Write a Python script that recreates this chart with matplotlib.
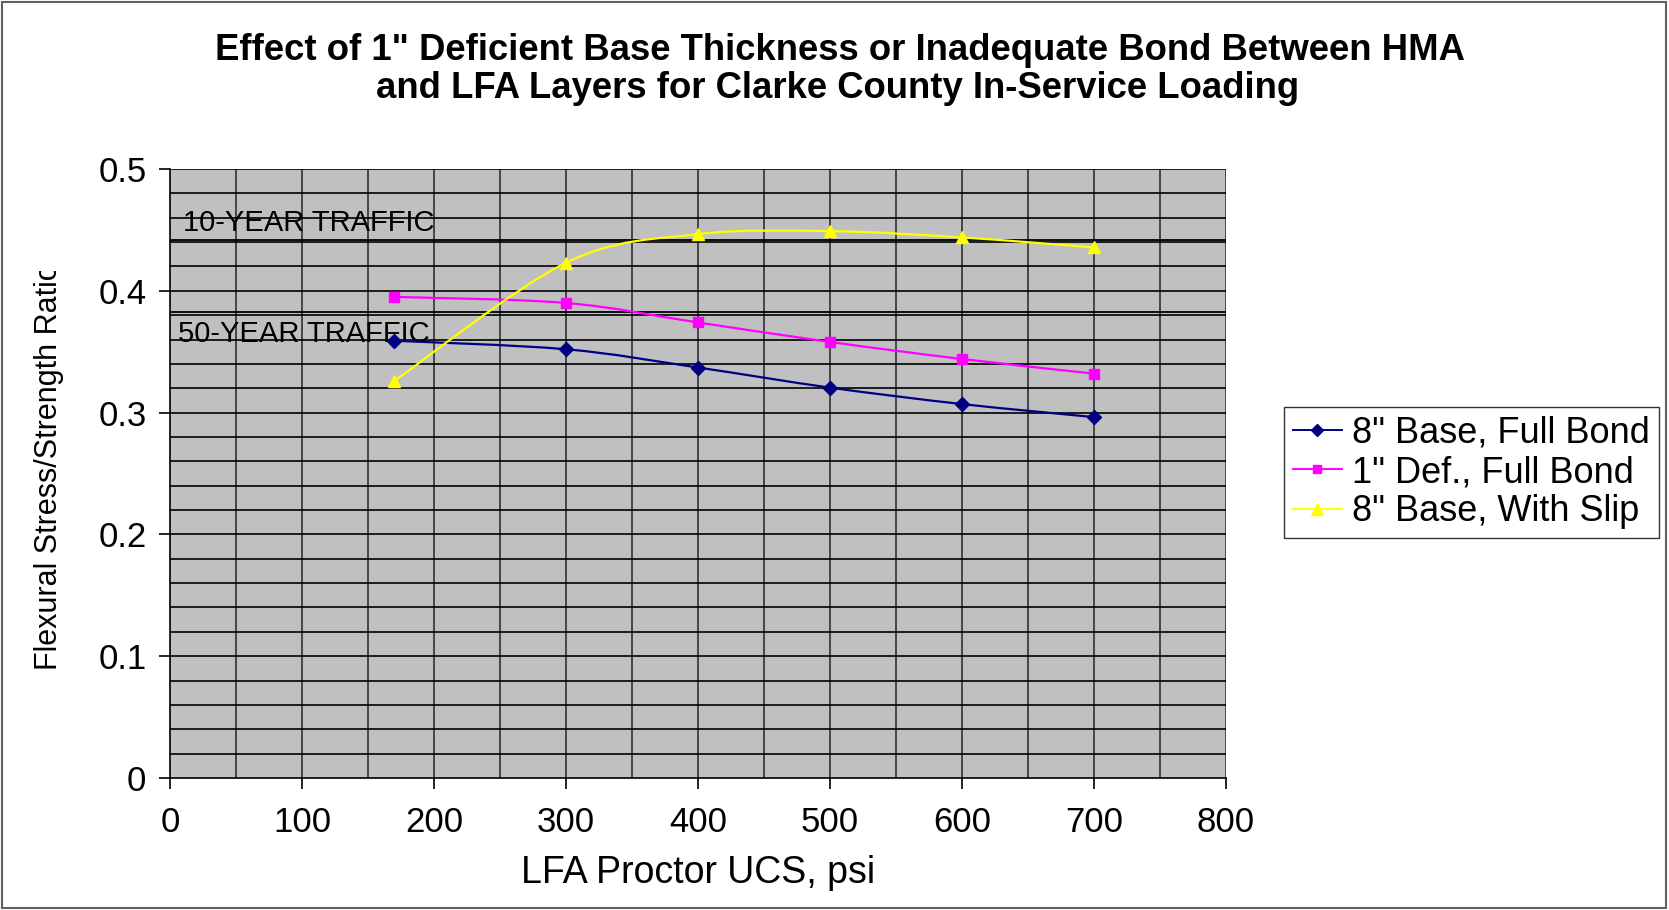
import matplotlib
matplotlib.use("Agg")
import matplotlib.pyplot as plt
from matplotlib.path import Path
from matplotlib.patches import PathPatch, Rectangle
from matplotlib.lines import Line2D
from matplotlib.transforms import Bbox, TransformedBbox
import numpy as np

plt.rcParams['font.family'] = ['Liberation Sans', 'DejaVu Sans']

ucs = [170, 300, 400, 500, 600, 700]
base_full_bond = [0.359, 0.352, 0.337, 0.3205, 0.307, 0.2963]
def_full_bond = [0.395, 0.390, 0.374, 0.358, 0.344, 0.332]
base_with_slip = [0.326, 0.423, 0.4465, 0.449, 0.4438, 0.4356]
series_labels = ['8" Base, Full Bond', '1" Def., Full Bond', '8" Base, With Slip']
traffic_10yr = 0.442
traffic_50yr = 0.3825
title_lines = ['Effect of 1" Deficient Base Thickness or Inadequate Bond Between HMA',
               'and LFA Layers for Clarke County In-Service Loading']

colors = ['#000080', '#FF00FF', '#FFFF00']
markers = ['D', 's', '^']
msizes = [7, 7, 9]

fig = plt.figure(figsize=(16.69, 9.10), dpi=100)
ax = fig.add_axes([170/1669, 1-778/910, (1226-170)/1669, (778-169)/910])
ax.set_facecolor('#C0C0C0')
ax.set_xlim(0, 800)
ax.set_ylim(0, 0.5)

# grid
for xv in np.arange(50, 801, 50):
    ax.axvline(xv, color='#303030', lw=1.2, zorder=1)
for yv in np.arange(0.02, 0.501, 0.02):
    ax.axhline(yv, color='black', lw=1.2, zorder=1)

# threshold lines
ax.axhline(traffic_10yr, color='black', lw=1.3, zorder=2)
ax.axhline(traffic_50yr, color='black', lw=1.3, zorder=2)
ax.text(10, 0.456, '10-YEAR TRAFFIC', fontsize=21, va='center', ha='left', zorder=3)
ax.text(6, 0.3645, '50-YEAR TRAFFIC', fontsize=21, va='center', ha='left', zorder=3)


def smooth_path(xs, ys):
    pts = np.column_stack([xs, ys]).astype(float)
    n = len(pts)
    verts = [pts[0]]
    codes = [Path.MOVETO]
    for i in range(n - 1):
        p0 = pts[i - 1] if i > 0 else pts[i]
        p1 = pts[i]
        p2 = pts[i + 1]
        p3 = pts[i + 2] if i + 2 < n else pts[i + 1]
        c1 = p1 + (p2 - p0) / 6.0
        c2 = p2 - (p3 - p1) / 6.0
        verts += [c1, c2, p2]
        codes += [Path.CURVE4] * 3
    return Path(verts, codes)


for ys, c, m, ms, lab in zip([base_full_bond, def_full_bond, base_with_slip], colors, markers, msizes, series_labels):
    patch = PathPatch(smooth_path(ucs, ys), facecolor='none', edgecolor=c, lw=1.6, zorder=4)
    ax.add_patch(patch)
    ax.plot(ucs, ys, linestyle='none', marker=m, color=c, markersize=ms, zorder=5)

for s in ['top', 'right']:
    ax.spines[s].set_visible(False)
ax.spines['left'].set_linewidth(1.2)
ax.spines['bottom'].set_linewidth(1.2)
ax.set_xticks(np.arange(0, 801, 100))
ax.set_yticks([0, 0.1, 0.2, 0.3, 0.4, 0.5])
ax.set_yticklabels(['0', '0.1', '0.2', '0.3', '0.4', '0.5'])
ax.tick_params(axis='both', direction='out', length=8, width=1.2, labelsize=25)
ax.tick_params(axis='x', pad=12)
ax.tick_params(axis='y', pad=9)

ax.set_xlabel('LFA Proctor UCS, psi', fontsize=27, labelpad=12)
yl = ax.set_ylabel('Flexural Stress/Strength Ratio', fontsize=22)
ax.yaxis.set_label_coords(-0.1, 0.511)
clip = TransformedBbox(Bbox([[0, 0], [1, 1 - 271/910]]), fig.transFigure)
yl.set_clip_box(clip)
yl.set_clip_on(True)

fig.text(840/1669, 1 - 50/910, title_lines[0], fontsize=26.3, fontweight='bold', ha='center', va='center')
fig.text(838/1669, 1 - 89/910, title_lines[1], fontsize=26.3, fontweight='bold', ha='center', va='center')

handles = [Line2D([], [], color=c, marker=m, markersize=ms - 1, lw=1.4) for c, m, ms in zip(colors, markers, msizes)]
leg = fig.legend(handles, series_labels, loc='center', bbox_to_anchor=(1471.5/1669, 1-472.6/910),
                 fontsize=26, frameon=True, fancybox=False, edgecolor='black', handlelength=1.35,
                 handletextpad=0.3, borderpad=0.25, labelspacing=0.12)
leg.get_frame().set_linewidth(1.0)

fig.patches.append(Rectangle((0.001, 0.002), 0.997, 0.996, transform=fig.transFigure,
                             fill=False, edgecolor='#606060', lw=1.5))

fig.savefig('out.png', dpi=100)
